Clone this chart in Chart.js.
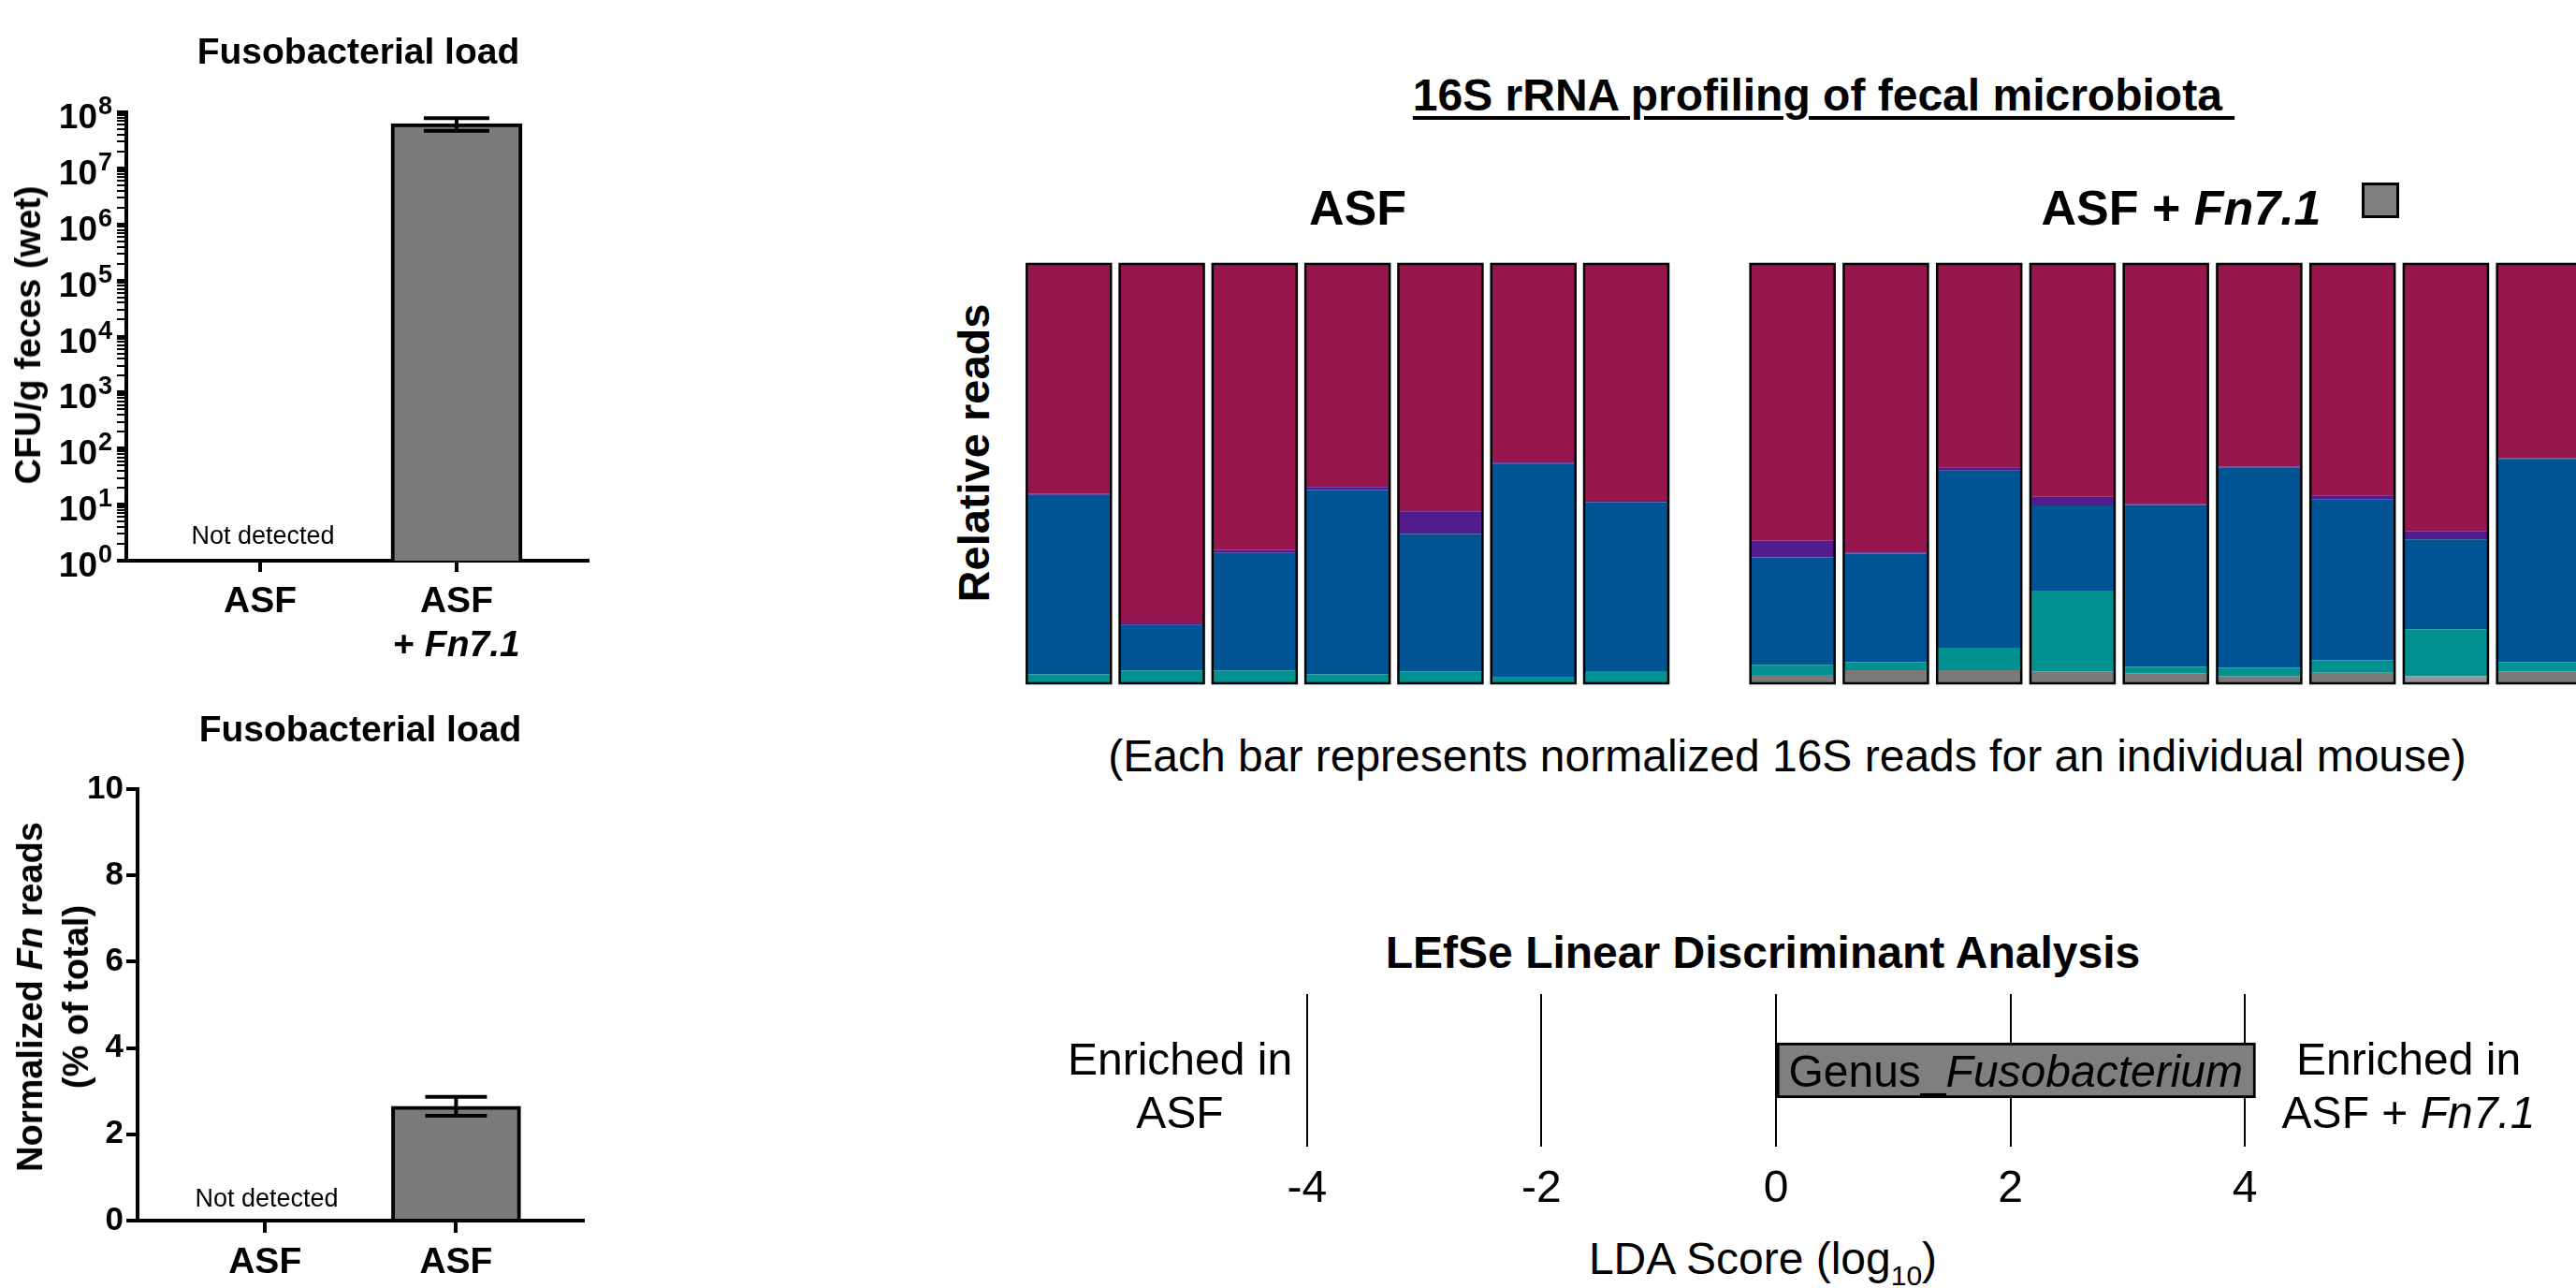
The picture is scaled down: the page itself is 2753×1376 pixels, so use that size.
<!DOCTYPE html>
<html>
<head>
<meta charset="utf-8">
<script src="https://cdn.jsdelivr.net/npm/chart.js@4.4.1/dist/chart.umd.min.js"></script>
<style>
html, body { margin: 0; padding: 0; width: 2753px; height: 1376px; overflow: hidden; background: #fff; }
body { position: relative; font-family: "Liberation Sans", Arial, sans-serif; color: #000; }
canvas { position: absolute; }
.t { position: absolute; white-space: pre; line-height: 1; }
.legend-box { position: absolute; left: 2524px; top: 195px; width: 34px; height: 32px; border: 3px solid #000; background: #7f7f7f; }
</style>
</head>
<body>
<canvas id="cfuChart" width="660" height="660" style="left:0;top:60px"></canvas>
<canvas id="readsChart" width="660" height="596" style="left:0;top:780px"></canvas>
<canvas id="asfChart" width="706" height="460" style="left:1088px;top:276px"></canvas>
<canvas id="fnChart" width="910" height="460" style="left:1860px;top:276px"></canvas>
<canvas id="ldaChart" width="1160" height="260" style="left:1320px;top:1050px"></canvas>
<div class="legend-box"></div>
<script>
// Dados do gráfico
const groups = ['ASF', 'ASF + Fn7.1'];
const cfuMean = [null, 6.3e7];     // CFU/g fezes
const cfuSem = [0, 1.6e7];
const cfuTickExps = [0, 1, 2, 3, 4, 5, 6, 7, 8];
const readsMean = [null, 2.65];    // % do total
const readsSem = [0, 0.22];
const readsTicks = [0, 2, 4, 6, 8, 10];

// 16S: cada barra = um camundongo
const asfMice = ['1', '2', '3', '4', '5', '6', '7'];
const fnMice = ['1', '2', '3', '4', '5', '6', '7', '8', '9'];
const asfTaxonA = [0.548, 0.857, 0.682, 0.532, 0.590, 0.474, 0.565];
const asfTaxonB = [0.003, 0.004, 0.007, 0.007, 0.054, 0.003, 0.003];
const asfTaxonC = [0.428, 0.109, 0.281, 0.440, 0.328, 0.509, 0.403];
const asfTaxonD = [0.021, 0.030, 0.030, 0.021, 0.028, 0.014, 0.029];
const asfFuso = [0, 0, 0, 0, 0, 0, 0];
const asfTaxonE = [0, 0, 0, 0, 0, 0, 0];
const fnTaxonA = [0.660, 0.688, 0.485, 0.555, 0.573, 0.483, 0.552, 0.638, 0.463];
const fnTaxonB = [0.040, 0.003, 0.008, 0.021, 0.002, 0.002, 0.010, 0.019, 0.002];
const fnTaxonC = [0.256, 0.259, 0.422, 0.203, 0.386, 0.478, 0.383, 0.214, 0.485];
const fnTaxonD = [0.024, 0.019, 0.054, 0.193, 0.015, 0.020, 0.030, 0.112, 0.022];
const fnFuso = [0.020, 0.031, 0.031, 0.028, 0.024, 0.017, 0.025, 0, 0.028];
const fnTaxonE = [0, 0, 0, 0, 0, 0, 0, 0.017, 0];

// LEfSe
const ldaTaxa = ['Genus_Fusobacterium'];
const ldaScores = [4.09];
const ldaTicks = [-4, -2, 0, 2, 4];

const FAMILY = "'Liberation Sans', Arial, sans-serif";
Chart.defaults.font.family = FAMILY;
Chart.defaults.color = '#000';
Chart.defaults.animation = false;
Chart.defaults.plugins.legend.display = false;
Chart.defaults.plugins.tooltip.enabled = false;

// texto com partes em itálico: [[texto, italico], ...]
function drawRuns(ctx, runs, cx, y, size, weight) {
  const font = it => `${it ? 'italic ' : ''}${weight} ${size}px ${FAMILY}`;
  let w = 0;
  runs.forEach(r => { ctx.font = font(r[1]); w += ctx.measureText(r[0]).width; });
  let x = cx - w / 2;
  ctx.textAlign = 'left';
  runs.forEach(r => { ctx.font = font(r[1]); ctx.fillText(r[0], x, y); x += ctx.measureText(r[0]).width; });
}

function catLabels(labels, offset, gap) {
  return {
    id: 'catLabels',
    afterDraw(chart) {
      const ctx = chart.ctx, xs = chart.scales.x;
      ctx.save();
      ctx.fillStyle = '#000';
      ctx.textBaseline = 'alphabetic';
      labels.forEach((lines, i) => {
        const x = xs.getPixelForValue(i);
        lines.forEach((line, j) => drawRuns(ctx, line, x, chart.chartArea.bottom + offset + j * gap, 39, 'bold'));
      });
      ctx.restore();
    }
  };
}

function errorBars(mean, sem, cap) {
  return {
    id: 'errorBars',
    afterDatasetsDraw(chart) {
      const ctx = chart.ctx, ys = chart.scales.y, meta = chart.getDatasetMeta(0);
      ctx.save();
      ctx.strokeStyle = '#000';
      ctx.lineWidth = 4;
      mean.forEach((m, i) => {
        if (m == null) return;
        const x = meta.data[i].x;
        const hi = ys.getPixelForValue(m + sem[i]);
        const lo = ys.getPixelForValue(m - sem[i]);
        ctx.beginPath();
        ctx.moveTo(x, hi); ctx.lineTo(x, lo);
        ctx.moveTo(x - cap, hi); ctx.lineTo(x + cap, hi);
        ctx.moveTo(x - cap, lo); ctx.lineTo(x + cap, lo);
        ctx.stroke();
      });
      ctx.restore();
    }
  };
}

const logTickLabels = {
  id: 'logTickLabels',
  afterDraw(chart) {
    const ctx = chart.ctx, ys = chart.scales.y;
    const xr = ys.right - 31;
    ctx.save();
    ctx.fillStyle = '#000';
    ctx.textBaseline = 'alphabetic';
    cfuTickExps.forEach(e => {
      const y = ys.getPixelForValue(Math.pow(10, e));
      ctx.font = `bold 37px ${FAMILY}`;
      ctx.textAlign = 'right';
      ctx.fillText('10', xr, y + 17);
      ctx.font = `bold 27px ${FAMILY}`;
      ctx.textAlign = 'left';
      ctx.fillText(String(e), xr + 1, y + 2);
    });
    ctx.restore();
  }
};

// contorno preto em volta de cada barra empilhada
const stackOutline = {
  id: 'stackOutline',
  afterDatasetsDraw(chart) {
    const ctx = chart.ctx, ys = chart.scales.y, meta = chart.getDatasetMeta(0);
    ctx.save();
    ctx.strokeStyle = '#000';
    ctx.lineWidth = 2.5;
    chart.data.labels.forEach((_, i) => {
      let total = 0;
      chart.data.datasets.forEach(d => { total += d.data[i] || 0; });
      const el = meta.data[i];
      const top = ys.getPixelForValue(total), bottom = ys.getPixelForValue(0);
      ctx.strokeRect(el.x - el.width / 2, top, el.width, bottom - top);
    });
    ctx.restore();
  }
};

function barText(runs, size) {
  return {
    id: 'barText',
    afterDatasetsDraw(chart) {
      const ctx = chart.ctx, el = chart.getDatasetMeta(0).data[0];
      const xs = chart.scales.x;
      const cx = (xs.getPixelForValue(0) + el.x) / 2;
      ctx.save();
      ctx.fillStyle = '#000';
      ctx.textBaseline = 'alphabetic';
      drawRuns(ctx, runs, cx, el.y + 17, size, 'normal');
      ctx.restore();
    }
  };
}

// painel 1: UFC por grama (log)
new Chart(document.getElementById('cfuChart'), {
  type: 'bar',
  data: {
    datasets: [{
      data: groups.map((g, i) => ({ x: i, y: cfuMean[i] })),
      backgroundColor: '#7a7a7a',
      borderColor: '#000',
      borderWidth: 4,
      barThickness: 140
    }]
  },
  options: {
    responsive: false,
    devicePixelRatio: 1,
    layout: { padding: { top: 60, right: 32, left: 0, bottom: 0 } },
    scales: {
      x: {
        type: 'linear', min: -0.681, max: 1.667, offset: false,
        afterBuildTicks: s => { s.ticks = groups.map((g, i) => ({ value: i })); },
        afterFit: s => { s.height = 121; },
        ticks: { display: false },
        grid: { offset: false, drawOnChartArea: false, tickLength: 12, lineWidth: 4, color: '#000' },
        border: { width: 4, color: '#000' }
      },
      y: {
        type: 'logarithmic', min: 1, max: 1e8,
        afterBuildTicks: s => {
          const t = [];
          for (let e = 0; e < 8; e++) for (let m = 1; m < 10; m++) t.push({ value: m * Math.pow(10, e), major: m === 1 });
          t.push({ value: 1e8, major: true });
          s.ticks = t;
        },
        afterFit: s => { s.width = 135; },
        ticks: { display: false, autoSkip: false },
        grid: { drawOnChartArea: false, tickLength: 10, color: '#000', lineWidth: c => (c.tick && c.tick.major) ? 4 : 2 },
        border: { width: 4, color: '#000' }
      }
    }
  },
  plugins: [errorBars(cfuMean, cfuSem, 35), logTickLabels,
    catLabels([[[['ASF', false]]], [[['ASF', false]], [['+ ', false], ['Fn7.1', true]]]], 55, 47)]
});

// painel 2: leituras normalizadas de Fn
new Chart(document.getElementById('readsChart'), {
  type: 'bar',
  data: {
    datasets: [{
      data: groups.map((g, i) => ({ x: i, y: readsMean[i] })),
      backgroundColor: '#7a7a7a',
      borderColor: '#000',
      borderWidth: 4,
      barThickness: 138
    }]
  },
  options: {
    responsive: false,
    devicePixelRatio: 1,
    layout: { padding: { top: 63, right: 37, left: 0, bottom: 0 } },
    scales: {
      x: {
        type: 'linear', min: -0.667, max: 1.664, offset: false,
        afterBuildTicks: s => { s.ticks = groups.map((g, i) => ({ value: i })); },
        afterFit: s => { s.height = 72; },
        ticks: { display: false },
        grid: { offset: false, drawOnChartArea: false, tickLength: 13, lineWidth: 4, color: '#000' },
        border: { width: 4, color: '#000' }
      },
      y: {
        min: 0, max: 10,
        afterBuildTicks: s => { s.ticks = readsTicks.map(v => ({ value: v })); },
        afterFit: s => { s.width = 147; },
        ticks: { font: { size: 35, weight: 'bold' }, color: '#000', padding: 3 },
        grid: { drawOnChartArea: false, tickLength: 12, lineWidth: 4, color: '#000' },
        border: { width: 4, color: '#000' }
      }
    }
  },
  plugins: [errorBars(readsMean, readsSem, 33), catLabels([[[['ASF', false]]], [[['ASF', false]]]], 56, 47)]
});

// painéis 16S empilhados
function stackedDatasets(a, b, c, d, fuso, e) {
  return [
    { label: 'Fusobacterium', data: fuso, backgroundColor: '#7a7a7a' },
    { label: 'Taxon E', data: e, backgroundColor: '#969696' },
    { label: 'Taxon D', data: d, backgroundColor: '#009190' },
    { label: 'Taxon C', data: c, backgroundColor: '#015493' },
    { label: 'Taxon B', data: b, backgroundColor: '#521c8f' },
    { label: 'Taxon A', data: a, backgroundColor: '#95174e' }
  ];
}
function stackedOptions(padL, padR, barPct) {
  return {
    responsive: false,
    devicePixelRatio: 1,
    layout: { padding: { left: padL, right: padR, top: 6, bottom: 6 } },
    datasets: { bar: { categoryPercentage: 1, barPercentage: barPct, borderWidth: 0 } },
    scales: {
      x: { stacked: true, display: false },
      y: { stacked: true, display: false, min: 0, max: 1 }
    }
  };
}
new Chart(document.getElementById('asfChart'), {
  type: 'bar',
  data: { labels: asfMice, datasets: stackedDatasets(asfTaxonA, asfTaxonB, asfTaxonC, asfTaxonD, asfFuso, asfTaxonE) },
  options: stackedOptions(4.65, 6.35, 90 / 99.3),
  plugins: [stackOutline]
});
new Chart(document.getElementById('fnChart'), {
  type: 'bar',
  data: { labels: fnMice, datasets: stackedDatasets(fnTaxonA, fnTaxonB, fnTaxonC, fnTaxonD, fnFuso, fnTaxonE) },
  options: stackedOptions(5.8, 6.45, 90 / 99.75),
  plugins: [stackOutline]
});

// LEfSe
new Chart(document.getElementById('ldaChart'), {
  type: 'bar',
  data: {
    labels: ldaTaxa,
    datasets: [{
      data: ldaScores,
      backgroundColor: '#7f7f7f',
      borderColor: '#000',
      borderWidth: 3,
      borderSkipped: false,
      barThickness: 59
    }]
  },
  options: {
    indexAxis: 'y',
    responsive: false,
    devicePixelRatio: 1,
    layout: { padding: { left: 14.15, right: 18.15, top: 12, bottom: 0 } },
    scales: {
      x: {
        type: 'linear', min: -4.5, max: 4.5,
        afterBuildTicks: s => { s.ticks = ldaTicks.map(v => ({ value: v })); },
        afterFit: s => { s.height = 85; },
        ticks: { font: { size: 48 }, color: '#000', padding: 17 },
        grid: { drawTicks: false, color: '#000', lineWidth: 2 },
        border: { display: false }
      },
      y: { display: false }
    }
  },
  plugins: [barText([['Genus_', false], ['Fusobacterium', true]], 48)]
});

// textos
function addText(html, cx, base, size, bold) {
  const d = document.createElement('div');
  d.className = 't';
  d.innerHTML = html;
  d.style.fontSize = size + 'px';
  d.style.fontWeight = bold ? 'bold' : 'normal';
  d.style.left = cx + 'px';
  d.style.top = (base - 0.8465 * size) + 'px';
  d.style.transform = 'translateX(-50%)';
  document.body.appendChild(d);
}
function addVText(html, cx, cy, size, lh) {
  const d = document.createElement('div');
  d.className = 't';
  d.innerHTML = html;
  d.style.fontSize = size + 'px';
  d.style.fontWeight = 'bold';
  d.style.lineHeight = lh + 'px';
  d.style.textAlign = 'center';
  d.style.left = cx + 'px';
  d.style.top = cy + 'px';
  d.style.transform = 'translate(-50%, -50%) rotate(-90deg)';
  document.body.appendChild(d);
}

addText('Fusobacterial load', 383, 68, 39, true);
addText('Fusobacterial load', 385, 792, 39, true);
addVText('CFU/g feces (wet)', 30, 358, 38, 44);
addVText('Normalized <i>Fn</i> reads\n(% of total)', 57, 1065, 38, 49);
addText('Not detected', 281, 582, 27, false);
addText('Not detected', 285, 1290, 27, false);

addText('<span style="text-decoration:underline;text-decoration-thickness:4px;text-underline-offset:6px">16S rRNA profiling of fecal microbiota </span>', 1949, 119, 48, true);
addText('ASF', 1451, 240, 52, true);
addText('ASF + <i>Fn7.1</i>', 2331, 240, 52, true);
addVText('Relative reads', 1041, 484, 47, 50);
addText('(Each bar represents normalized 16S reads for an individual mouse)', 1910, 825, 48, false);

addText('LEfSe Linear Discriminant Analysis', 1884, 1035, 48, true);
addText('Enriched in', 1261, 1149, 48, false);
addText('ASF', 1261, 1206, 48, false);
addText('Enriched in', 2574, 1149, 48, false);
addText('ASF + <i>Fn7.1</i>', 2574, 1206, 48, false);
addText('LDA Score (log<span style="font-size:30px;vertical-align:-12px">10</span>)', 1884, 1362, 48, false);
</script>
</body>
</html>
